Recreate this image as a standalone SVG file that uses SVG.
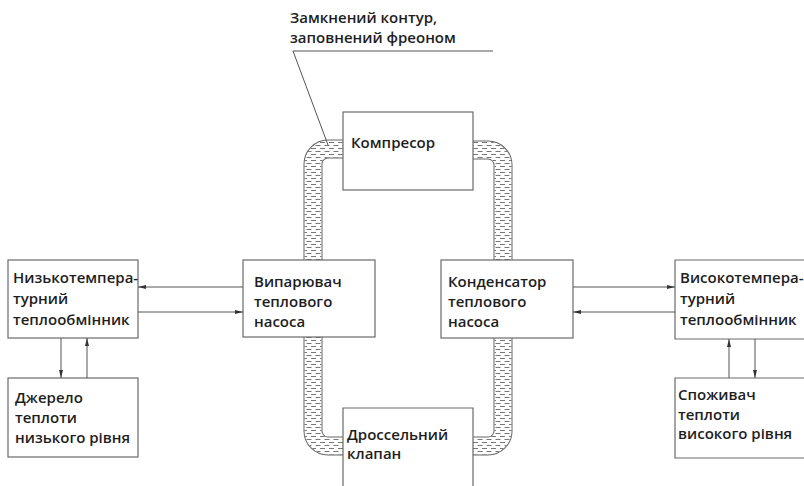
<svg xmlns="http://www.w3.org/2000/svg" width="804" height="486" viewBox="0 0 804 486">
<style>
.box{fill:#fff;stroke:#6a6a6a;stroke-width:1.2}
.t{font-family:"Open Sans","Noto Sans",sans-serif;font-size:15px;font-weight:600;fill:#1e1e1e}
.ln{stroke:#555;stroke-width:1;fill:none}
.pipeo{fill:none;stroke:#666;stroke-width:19}
.pipew{fill:none;stroke:#fff;stroke-width:17}
.pipep{fill:none;stroke:url(#dash);stroke-width:17}
</style>
<defs>
<pattern id="dash" patternUnits="userSpaceOnUse" width="9" height="6">
<line x1="0.5" y1="1.5" x2="5.5" y2="1.5" stroke="#777" stroke-width="1"/>
<line x1="5" y1="4.5" x2="10" y2="4.5" stroke="#777" stroke-width="1"/>
<line x1="-4" y1="4.5" x2="1" y2="4.5" stroke="#777" stroke-width="1"/>
</pattern>
<marker id="ah" viewBox="0 0 8 6" refX="8" refY="3" markerWidth="8" markerHeight="6" orient="auto" markerUnits="userSpaceOnUse">
<path d="M0,1 L8,3 L0,5 Z" fill="#333"/>
</marker>
</defs>
<g id="pipes">
<path class="pipeo" d="M350 149 H328 A15 15 0 0 0 313 164 V431 A15 15 0 0 0 328 446 H350"/>
<path class="pipew" d="M350 149 H328 A15 15 0 0 0 313 164 V431 A15 15 0 0 0 328 446 H350"/>
<path class="pipep" d="M350 149 H328 A15 15 0 0 0 313 164 V431 A15 15 0 0 0 328 446 H350"/>
<path class="pipeo" d="M466 150 H488 A15 15 0 0 1 503 165 V431 A15 15 0 0 1 488 446 H466"/>
<path class="pipew" d="M466 150 H488 A15 15 0 0 1 503 165 V431 A15 15 0 0 1 488 446 H466"/>
<path class="pipep" d="M466 150 H488 A15 15 0 0 1 503 165 V431 A15 15 0 0 1 488 446 H466"/>
</g>
<g id="compressor">
<rect class="box" x="343" y="112" width="130" height="78"/>
<text class="t" x="351" y="148">Компресор</text>
</g>
<g id="throttle">
<path class="box" d="M343 490 V408 H473 V490"/>
<text class="t"><tspan x="347" y="440">Дроссельний</tspan><tspan x="347" y="459">клапан</tspan></text>
</g>
<g id="evaporator">
<rect class="box" x="243" y="260" width="132" height="77"/>
<text class="t"><tspan x="254" y="287">Випарювач</tspan><tspan x="254" y="307">теплового</tspan><tspan x="254" y="327">насоса</tspan></text>
</g>
<g id="condenser">
<rect class="box" x="441" y="260" width="132" height="78"/>
<text class="t"><tspan x="448" y="287">Конденсатор</tspan><tspan x="448" y="307">теплового</tspan><tspan x="448" y="327">насоса</tspan></text>
</g>
<g id="low-exchanger">
<rect class="box" x="8" y="260" width="130" height="78"/>
<text class="t"><tspan x="13" y="283">Низькотемпера-</tspan><tspan x="13" y="304">турний</tspan><tspan x="13" y="325">теплообмінник</tspan></text>
</g>
<g id="low-source">
<rect class="box" x="8" y="378" width="130" height="79"/>
<text class="t"><tspan x="15" y="403">Джерело</tspan><tspan x="15" y="423">теплоти</tspan><tspan x="15" y="443">низького рівня</tspan></text>
</g>
<g id="high-exchanger">
<path class="box" d="M810 260 H675 V339 H810"/>
<text class="t"><tspan x="680" y="283">Високотемпера-</tspan><tspan x="680" y="304">турний</tspan><tspan x="680" y="325">теплообмінник</tspan></text>
</g>
<g id="consumer">
<path class="box" d="M810 378 H675 V458 H810"/>
<text class="t"><tspan x="678" y="400">Споживач</tspan><tspan x="678" y="420">теплоти</tspan><tspan x="678" y="439">високого рівня</tspan></text>
</g>
<g id="annotation">
<text class="t"><tspan x="290" y="23">Замкнений контур,</tspan><tspan x="290" y="43">заповнений фреоном</tspan></text>
<path class="ln" d="M493 51 H293 L328 145"/>
</g>
<g id="connectors">
<line class="ln" x1="243" y1="287" x2="138" y2="287" marker-end="url(#ah)"/>
<line class="ln" x1="138" y1="312" x2="243" y2="312" marker-end="url(#ah)"/>
<line class="ln" x1="573" y1="287" x2="675" y2="287" marker-end="url(#ah)"/>
<line class="ln" x1="675" y1="312" x2="573" y2="312" marker-end="url(#ah)"/>
<line class="ln" x1="61" y1="338" x2="61" y2="378" marker-end="url(#ah)"/>
<line class="ln" x1="87" y1="378" x2="87" y2="338" marker-end="url(#ah)"/>
<line class="ln" x1="729" y1="378" x2="729" y2="339" marker-end="url(#ah)"/>
<line class="ln" x1="755" y1="339" x2="755" y2="378" marker-end="url(#ah)"/>
</g>
</svg>
